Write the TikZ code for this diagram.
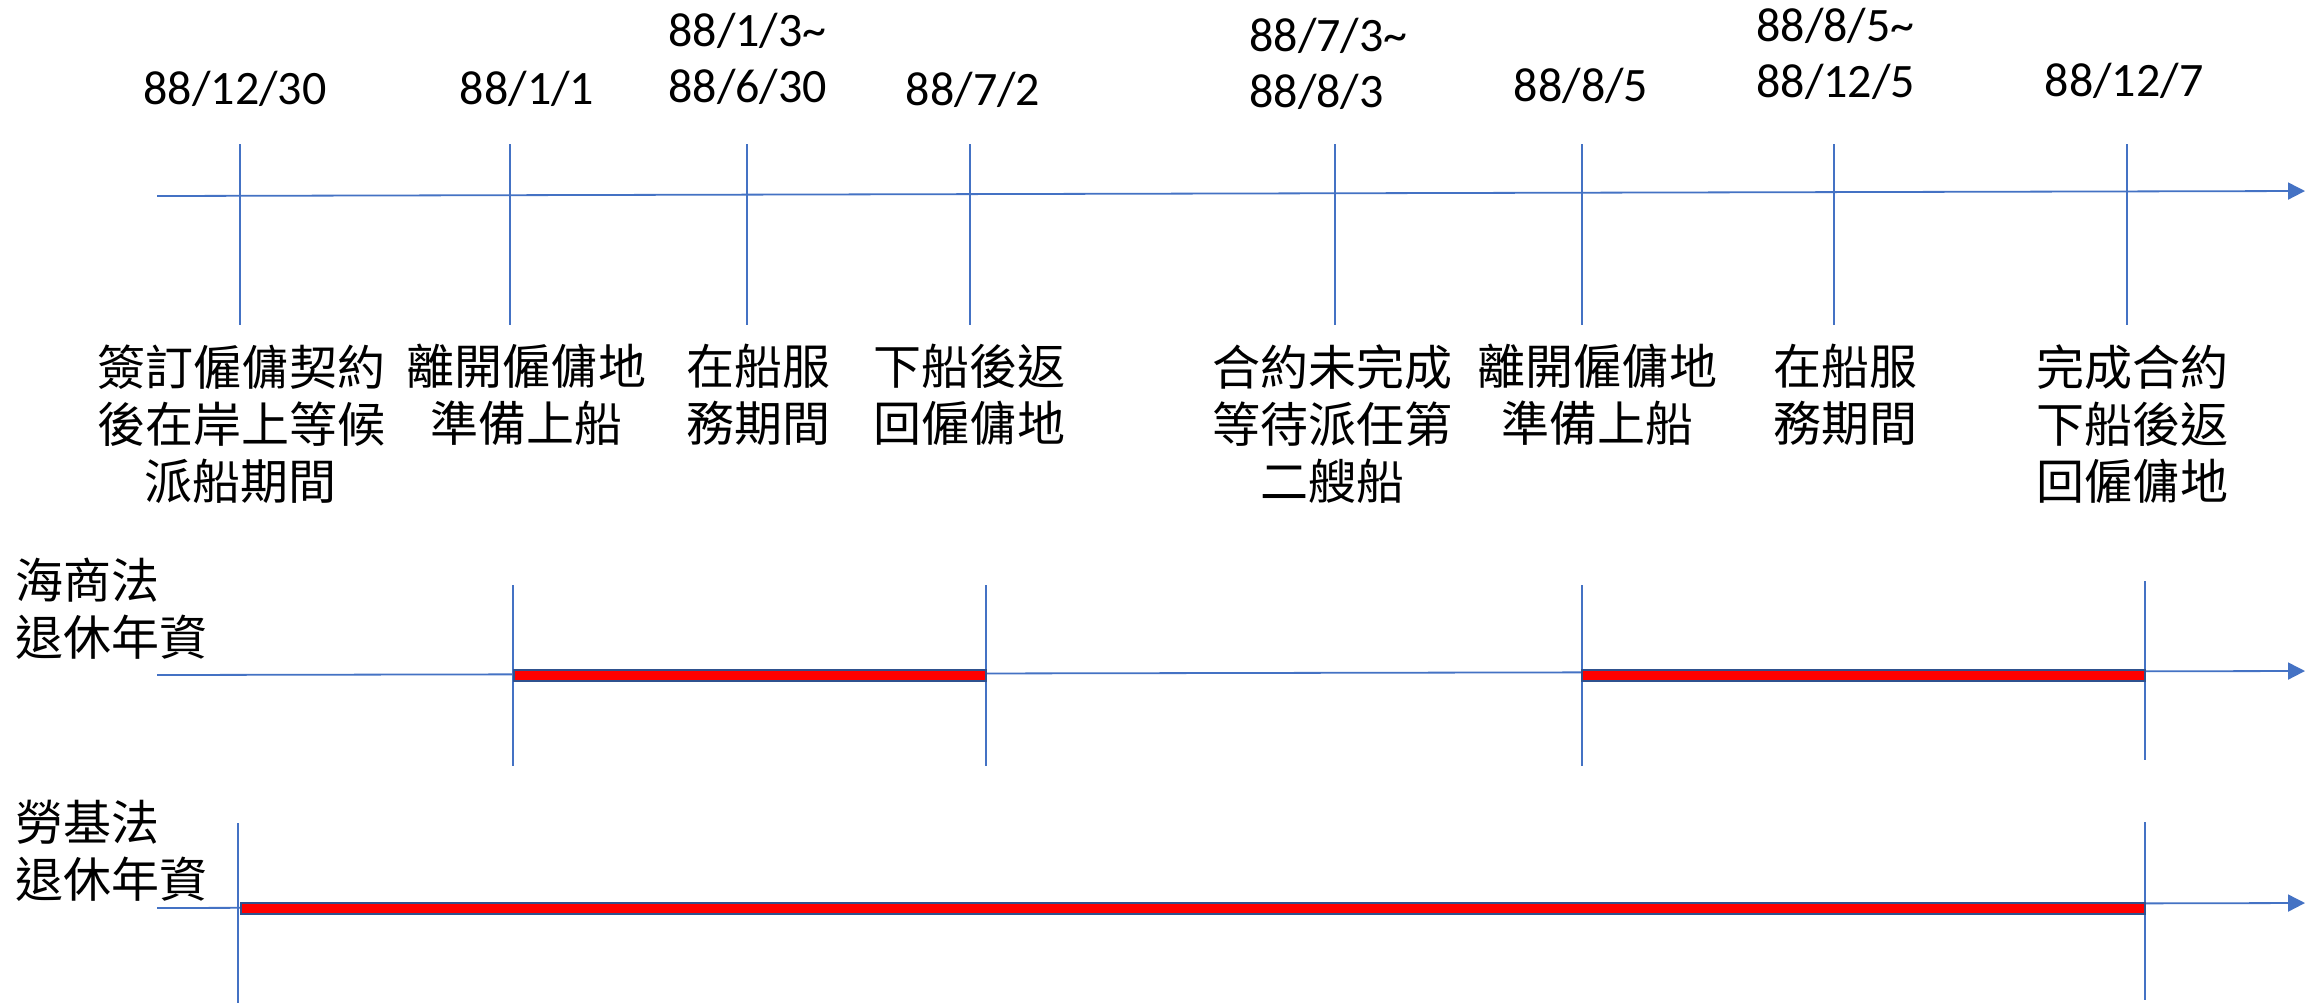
\documentclass[tikz,border=0pt]{standalone}
\usepackage{fontspec}
\setmainfont{Carlito}
\newfontfamily\cjk{Noto Sans CJK TC}
\usetikzlibrary{arrows.meta}
\definecolor{axisblue}{HTML}{4472C4}
\definecolor{barblue}{HTML}{2F528F}
\definecolor{barred}{HTML}{FF0000}
\begin{document}
\begin{tikzpicture}[x=0.5pt,y=-0.5pt,
  tickline/.style={draw=axisblue,line width=0.75pt},
  axisline/.style={draw=axisblue,line width=0.9pt,-{Triangle[length=8.5pt,width=8.5pt]}},
  barbox/.style={draw=barblue,fill=barred,line width=1.25pt},
  datelbl/.style={inner sep=0pt,anchor=north,font=\fontsize{24}{28}\selectfont},
  datelblL/.style={inner sep=0pt,anchor=north west,align=left,font=\fontsize{24}{28}\selectfont},
  cjklbl/.style={inner sep=0pt,align=center,anchor=north,font=\cjk\fontsize{24}{28.5}\selectfont},
  rowlbl/.style={inner sep=0pt,align=left,anchor=north west,font=\cjk\fontsize{24}{28.5}\selectfont}]
\useasboundingbox[fill=white] (0,0) rectangle (2323,1003);

% ---------- top timeline ----------
\coordinate (a1s) at (157,196);
\coordinate (a1e) at (2305,191);
\draw[axisline] (a1s) -- (a1e);
\foreach \i/\x in {1/240,2/510,3/747,4/970,5/1335,6/1582,7/1834,8/2127}{
  \coordinate (t\i a) at (\x,144);
  \coordinate (t\i b) at (\x,325);
  \draw[tickline] (t\i a) -- (t\i b);
}

% dates
\node[datelbl] (d1) at (235,71) {88/12/30};
\node[datelbl] (d2) at (527,71) {88/1/1};
\node[datelblL] (d3) at (668,13) {88/1/3\textasciitilde\\88/6/30};
\node[datelbl] (d4) at (973,72) {88/7/2};
\node[datelblL] (d5) at (1249,18) {88/7/3\textasciitilde\\88/8/3};
\node[datelbl] (d6) at (1581,68) {88/8/5};
\node[datelblL] (d7) at (1756,8) {88/8/5\textasciitilde\\88/12/5};
\node[datelbl] (d8) at (2124,63) {88/12/7};

% descriptions
\node[cjklbl] (e1) at (241,344) {簽訂僱傭契約\\後在岸上等候\\派船期間};
\node[cjklbl] (e2) at (526,344) {離開僱傭地\\準備上船};
\node[cjklbl] (e3) at (758,344) {在船服\\務期間};
\node[cjklbl] (e4) at (969,344) {下船後返\\回僱傭地};
\node[cjklbl] (e5) at (1332,344) {合約未完成\\等待派任第\\二艘船};
\node[cjklbl] (e6) at (1597,344) {離開僱傭地\\準備上船};
\node[cjklbl] (e7) at (1845,344) {在船服\\務期間};
\node[cjklbl] (e8) at (2132,344) {完成合約\\下船後返\\回僱傭地};

% ---------- row 2: 海商法 ----------
\node[rowlbl] (r2) at (15,558) {海商法\\退休年資};
\coordinate (a2s) at (157,675);
\coordinate (a2e) at (2305,671);
\draw[axisline] (a2s) -- (a2e);
\foreach \i/\x/\ya/\yb in {1/513/585/766,2/986/585/766,3/1582/585/766,4/2145/581/760}{
  \coordinate (u\i a) at (\x,\ya);
  \coordinate (u\i b) at (\x,\yb);
  \draw[tickline] (u\i a) -- (u\i b);
}
\coordinate (b1s) at (514,670);
\coordinate (b1e) at (986,681);
\draw[barbox] (b1s) rectangle (b1e);
\coordinate (b2s) at (1582,670);
\coordinate (b2e) at (2145,681);
\draw[barbox] (b2s) rectangle (b2e);

% ---------- row 3: 勞基法 ----------
\node[rowlbl] (r3) at (15,800) {勞基法\\退休年資};
\coordinate (a3s) at (157,908);
\coordinate (a3e) at (2305,903);
\draw[axisline] (a3s) -- (a3e);
\foreach \i/\x/\ya/\yb in {1/238/823/1003,2/2145/822/1000}{
  \coordinate (v\i a) at (\x,\ya);
  \coordinate (v\i b) at (\x,\yb);
  \draw[tickline] (v\i a) -- (v\i b);
}
\coordinate (b3s) at (241,903);
\coordinate (b3e) at (2145,914);
\draw[barbox] (b3s) rectangle (b3e);
\end{tikzpicture}
\end{document}
